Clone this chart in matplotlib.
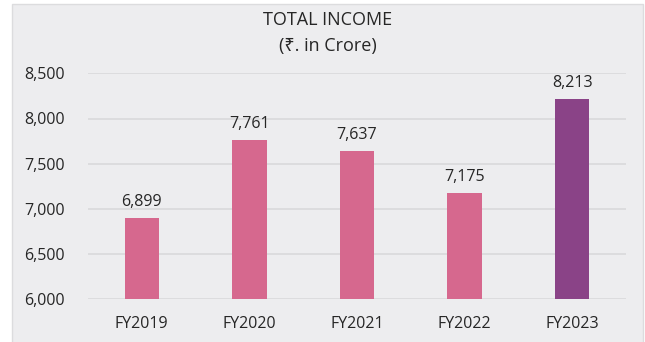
import matplotlib.pyplot as plt
from matplotlib.patches import Rectangle

plt.rcParams['font.family'] = ['Open Sans', 'Noto Sans', 'DejaVu Sans']

years = ['FY2019', 'FY2020', 'FY2021', 'FY2022', 'FY2023']
income = [6899, 7761, 7637, 7175, 8213]
yticks = [6000, 6500, 7000, 7500, 8000, 8500]

pink = '#D6688E'
purple = '#8A4387'
colors = [pink, pink, pink, pink, purple]
panel = '#EDEDEF'
text_col = '#262626'

fig = plt.figure(figsize=(6.45, 3.42), dpi=100)
fig.patch.set_facecolor('white')

# grey card behind the chart
fig.patches.append(Rectangle((12 / 645, -0.05), 631 / 645, 1 - 4 / 342 + 0.05,
                             transform=fig.transFigure, facecolor=panel,
                             edgecolor='#DCDCDE', linewidth=1.0, zorder=-1))

ax = fig.add_axes([88 / 645, 1 - 299.3 / 342, 538 / 645, 226 / 342])
ax.set_zorder(1)
ax.patch.set_alpha(0)

x = range(len(years))
bars = ax.bar(x, income, width=0.32, color=colors, zorder=3)

for xi, v in zip(x, income):
    ax.annotate(f'{v:,}', (xi, v), xytext=(0, 6), textcoords='offset points',
                ha='center', va='bottom', fontsize=11.5, color=text_col)

ax.set_xlim(-0.5, len(years) - 0.5)
ax.set_ylim(6000, 8500)
ax.set_yticks(yticks)
ax.set_yticklabels([f'{t:,}' for t in yticks])
ax.set_xticks(list(x))
ax.set_xticklabels(years)
ax.tick_params(axis='both', length=0, labelsize=11.5, labelcolor=text_col)
ax.tick_params(axis='y', pad=17)
ax.tick_params(axis='x', pad=12)
ax.grid(axis='y', color='#D9D9DB', linewidth=1.2, zorder=0)
for s in ax.spines.values():
    s.set_visible(False)

fig.text(0.508, 1 - 20 / 342, 'TOTAL INCOME', ha='center', va='center',
         fontsize=13, color=text_col)
fig.text(0.508, 1 - 46 / 342, '(₹. in Crore)', ha='center', va='center',
         fontsize=13, color=text_col)

fig.savefig('out.png', dpi=100)
